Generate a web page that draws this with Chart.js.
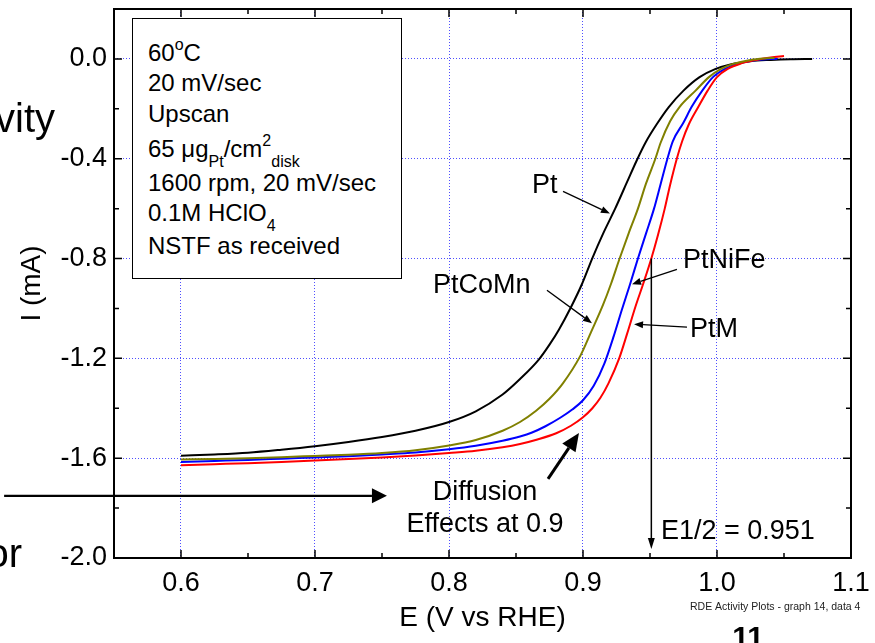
<!DOCTYPE html>
<html><head><meta charset="utf-8">
<script src="https://cdn.jsdelivr.net/npm/chart.js@4/dist/chart.umd.min.js"></script>
<style>
html,body{margin:0;padding:0;background:#fff;overflow:hidden}
#wrap{position:relative;width:875px;height:643px;overflow:hidden}
canvas{position:absolute;left:0;top:0}
#box{position:absolute;left:132px;top:18px;width:268px;height:259px;border:1.5px solid #000;background:#fff;font:24px "Liberation Sans",Arial,sans-serif;color:#000}
#box div{position:absolute;left:15px;white-space:nowrap;line-height:24px}
.sup{position:relative;font-size:16px;top:-11px}
.sub{position:relative;font-size:16px;top:10px}
</style></head>
<body>
<div id="wrap">
<canvas id="c" width="875" height="643"></canvas>
<div id="box">
<div style="top:22px">60<span class="sup">o</span>C</div>
<div style="top:52px">20 mV/sec</div>
<div style="top:83px">Upscan</div>
<div style="top:118px">65 μg<span class="sub">Pt</span>/cm<span class="sup">2</span><span class="sub">disk</span></div>
<div style="top:152px">1600 rpm, 20 mV/sec</div>
<div style="top:182px">0.1M HClO<span class="sub">4</span></div>
<div style="top:215px">NSTF as received</div>
</div>
</div>
<script>
// ---- data (E in V vs RHE, I in mA) ----
const xTicks = [0.6, 0.7, 0.8, 0.9, 1.0, 1.1];
const xMinor = [0.65, 0.75, 0.85, 0.95, 1.05];
const yTicks = [0.0, -0.4, -0.8, -1.2, -1.6, -2.0];
const yMinor = [-0.2, -0.6, -1.0, -1.4, -1.8];

const ptE = [0.600,0.625,0.650,0.675,0.700,0.725,0.750,0.775,0.800,0.820,0.840,0.853,0.867,0.875,0.882,0.891,0.899,0.907,0.915,0.924,0.933,0.940,0.947,0.955,0.964,0.975,0.987,0.999,1.010,1.025,1.040,1.055,1.071];
const ptI = [-1.590,-1.585,-1.578,-1.566,-1.552,-1.535,-1.515,-1.490,-1.455,-1.412,-1.345,-1.283,-1.205,-1.145,-1.085,-0.995,-0.905,-0.798,-0.700,-0.600,-0.492,-0.408,-0.332,-0.262,-0.193,-0.127,-0.073,-0.040,-0.022,-0.009,-0.004,-0.001,0.000];

const coE = [0.600,0.625,0.650,0.675,0.700,0.725,0.750,0.775,0.800,0.820,0.840,0.853,0.865,0.875,0.885,0.898,0.906,0.915,0.921,0.927,0.934,0.941,0.947,0.954,0.958,0.965,0.972,0.984,0.994,1.003,1.012,1.025,1.035,1.043];
const coI = [-1.605,-1.603,-1.600,-1.596,-1.591,-1.586,-1.579,-1.568,-1.549,-1.527,-1.490,-1.455,-1.410,-1.362,-1.300,-1.190,-1.095,-0.985,-0.900,-0.805,-0.700,-0.600,-0.500,-0.400,-0.335,-0.250,-0.193,-0.127,-0.073,-0.040,-0.020,-0.004,0.002,0.004];

const niE = [0.600,0.625,0.650,0.675,0.700,0.725,0.750,0.775,0.800,0.820,0.840,0.853,0.862,0.872,0.883,0.892,0.900,0.908,0.916,0.923,0.929,0.935,0.941,0.947,0.953,0.958,0.963,0.967,0.975,0.981,0.989,0.997,1.006,1.015,1.030,1.045];
const niI = [-1.615,-1.611,-1.607,-1.602,-1.597,-1.592,-1.585,-1.577,-1.564,-1.550,-1.530,-1.513,-1.497,-1.472,-1.438,-1.405,-1.368,-1.310,-1.220,-1.110,-1.005,-0.905,-0.800,-0.700,-0.600,-0.500,-0.400,-0.330,-0.255,-0.193,-0.127,-0.073,-0.040,-0.020,-0.004,0.001];

const mE = [0.600,0.625,0.650,0.675,0.700,0.725,0.750,0.775,0.800,0.820,0.840,0.853,0.866,0.880,0.891,0.900,0.907,0.913,0.919,0.927,0.933,0.939,0.945,0.951,0.956,0.961,0.965,0.970,0.974,0.979,0.986,0.993,1.000,1.008,1.018,1.030,1.040,1.050];
const mI = [-1.628,-1.624,-1.620,-1.615,-1.609,-1.603,-1.597,-1.589,-1.579,-1.570,-1.556,-1.543,-1.525,-1.500,-1.470,-1.436,-1.400,-1.358,-1.300,-1.200,-1.100,-0.995,-0.900,-0.800,-0.705,-0.600,-0.505,-0.400,-0.330,-0.262,-0.193,-0.127,-0.073,-0.040,-0.018,-0.003,0.006,0.012];

const seriesNames = ['PtCoMn', 'PtM', 'PtNiFe', 'Pt'];

// ---- styles ----
const FONT = '"Liberation Sans", Arial, Helvetica, sans-serif';
const GRID = 'rgba(60,60,255,0.9)';

function pts(E, I) { return E.map((e, i) => ({x: e, y: I[i]})); }

const framePlugin = {
  id: 'frame',
  afterDraw(chart) {
    const {ctx, chartArea: a, scales: {x, y}} = chart;
    ctx.save();
    ctx.strokeStyle = '#000';
    ctx.lineWidth = 1.5;
    const tick = (list, len) => {
      list.forEach(v => {
        const px = x.getPixelForValue(v);
        ctx.beginPath(); ctx.moveTo(px, a.bottom); ctx.lineTo(px, a.bottom - len);
        ctx.moveTo(px, a.top); ctx.lineTo(px, a.top + len); ctx.stroke();
      });
    };
    const ytick = (list, len) => {
      list.forEach(v => {
        const py = y.getPixelForValue(v);
        ctx.beginPath(); ctx.moveTo(a.left, py); ctx.lineTo(a.left + len, py);
        ctx.moveTo(a.right, py); ctx.lineTo(a.right - len, py); ctx.stroke();
      });
    };
    tick(xTicks, 8); tick(xMinor, 5);
    ytick(yTicks, 8); ytick(yMinor, 5);
    ctx.lineWidth = 2;
    ctx.strokeRect(a.left, a.top, a.right - a.left, a.bottom - a.top);
    ctx.restore();
  }
};

function arrow(ctx, x1, y1, x2, y2, lw, hl, hw) {
  const ang = Math.atan2(y2 - y1, x2 - x1);
  const bx = x2 - Math.cos(ang) * hl, by = y2 - Math.sin(ang) * hl;
  ctx.lineWidth = lw;
  ctx.beginPath(); ctx.moveTo(x1, y1); ctx.lineTo(bx, by); ctx.stroke();
  ctx.beginPath();
  ctx.moveTo(x2, y2);
  ctx.lineTo(bx + Math.sin(ang) * hw, by - Math.cos(ang) * hw);
  ctx.lineTo(bx - Math.sin(ang) * hw, by + Math.cos(ang) * hw);
  ctx.closePath(); ctx.fill();
}

const annotPlugin = {
  id: 'annot',
  afterDraw(chart) {
    const {ctx, scales: {x, y}} = chart;
    const X = v => x.getPixelForValue(v), Y = v => y.getPixelForValue(v);
    ctx.save();
    ctx.fillStyle = '#000'; ctx.strokeStyle = '#000';
    ctx.font = '27px ' + FONT;
    ctx.textBaseline = 'alphabetic';
    ctx.textAlign = 'left';
    ctx.fillText('Pt', X(0.8619), Y(-0.539));
    ctx.fillText('PtNiFe', X(0.9746), Y(-0.839));
    ctx.fillText('PtCoMn', X(0.788), Y(-0.939));
    ctx.fillText('PtM', X(0.9799), Y(-1.115));
    ctx.fillText('E1/2 = 0.951', X(0.9582), Y(-1.923));
    ctx.textAlign = 'center';
    ctx.fillText('Diffusion', X(0.8269), Y(-1.767));
    ctx.fillText('Effects at 0.9', X(0.8269), Y(-1.895));
    arrow(ctx, X(0.8851), Y(-0.531), X(0.9201), Y(-0.619), 1.3, 9, 3.5);
    arrow(ctx, X(0.9701), Y(-0.843), X(0.9366), Y(-0.903), 1.3, 9, 3.5);
    arrow(ctx, X(0.8731), Y(-0.927), X(0.9067), Y(-1.059), 1.3, 9, 3.5);
    arrow(ctx, X(0.9776), Y(-1.075), X(0.9381), Y(-1.063), 1.3, 9, 3.5);
    arrow(ctx, X(0.951), Y(-0.8), X(0.951), Y(-1.964), 1.5, 11, 3.5);
    arrow(ctx, X(0.8739), Y(-1.683), X(0.897), Y(-1.499), 3, 18, 8);
    arrow(ctx, X(0.468), Y(-1.751), X(0.7537), Y(-1.751), 2.3, 15, 7.5);
    ctx.textAlign = 'right';
    ctx.font = '40px ' + FONT;
    ctx.fillText('vity', 55, 132);
    ctx.fillText('or', 22, 567);
    ctx.textAlign = 'left';
    ctx.font = '10.5px ' + FONT;
    ctx.fillStyle = '#222';
    ctx.fillText('RDE Activity Plots - graph 14, data 4', 690, 610);
    ctx.fillStyle = '#000';
    ctx.textAlign = 'center';
    ctx.font = 'bold 30px ' + FONT;
    ctx.fillText('11', 748, 647);
    ctx.restore();
  }
};

new Chart(document.getElementById('c'), {
  type: 'line',
  data: {
    datasets: [
      {label: seriesNames[0], data: pts(coE, coI), borderColor: '#808000'},
      {label: seriesNames[1], data: pts(mE, mI), borderColor: '#ff0000'},
      {label: seriesNames[2], data: pts(niE, niI), borderColor: '#0000ff'},
      {label: seriesNames[3], data: pts(ptE, ptI), borderColor: '#000000'}
    ]
  },
  options: {
    responsive: false,
    animation: false,
    devicePixelRatio: 1,
    layout: {padding: {left: 0, right: 24, top: 9, bottom: 0}},
    plugins: {legend: {display: false}, tooltip: {enabled: false}},
    elements: {point: {radius: 0}, line: {borderWidth: 2, cubicInterpolationMode: 'monotone', fill: false}},
    scales: {
      x: {
        type: 'linear', min: 0.55, max: 1.1,
        afterBuildTicks: s => { s.ticks = xTicks.map(v => ({value: v})); },
        afterFit: s => { s.height = 85; s.paddingLeft = 0; s.paddingRight = 0; },
        ticks: {autoSkip: false, maxRotation: 0, padding: 9, color: '#000', font: {size: 27, family: FONT}, callback: v => Number(v).toFixed(1)},
        grid: {color: GRID, lineWidth: 1, drawTicks: false},
        border: {display: false, dash: [1, 2]},
        title: {display: true, text: 'E (V vs RHE)', color: '#000', font: {size: 28, family: FONT}, padding: {top: 0, bottom: 8}}
      },
      y: {
        type: 'linear', min: -2.0, max: 0.2,
        afterBuildTicks: s => { s.ticks = yTicks.map(v => ({value: v})); },
        afterFit: s => { s.width = 114; s.paddingTop = 0; s.paddingBottom = 0; },
        ticks: {autoSkip: false, padding: 7, color: '#000', font: {size: 27, family: FONT}, callback: v => Number(v).toFixed(1)},
        grid: {color: GRID, lineWidth: 1, drawTicks: false},
        border: {display: false, dash: [1, 2]},
        title: {display: true, text: 'I (mA)', color: '#000', font: {size: 28, family: FONT}, padding: {top: 15, bottom: 0}}
      }
    }
  },
  plugins: [framePlugin, annotPlugin]
});
</script>
</body></html>
